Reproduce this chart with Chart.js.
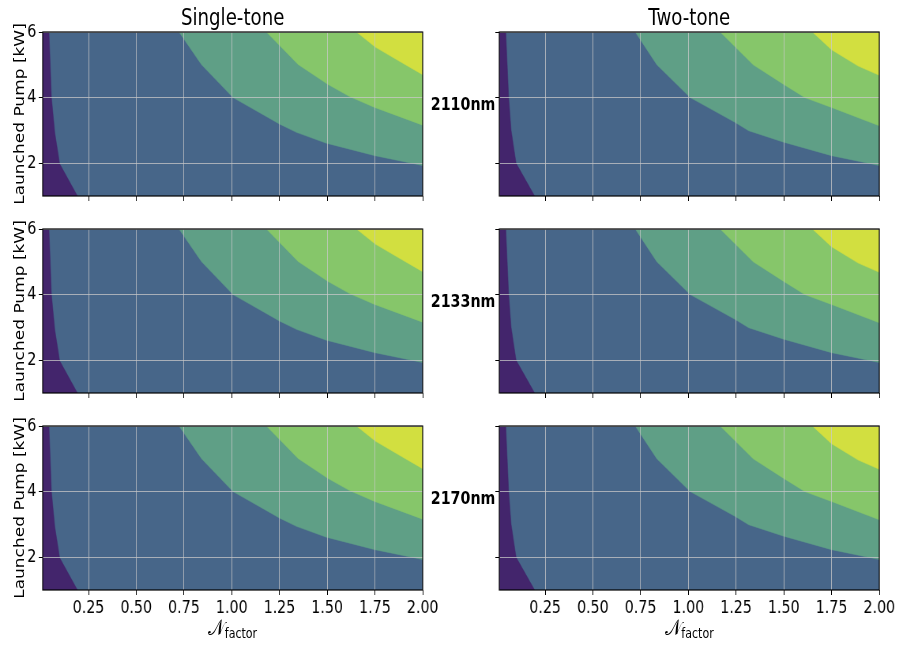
<!DOCTYPE html>
<html>
<head>
<meta charset="utf-8">
<script src="https://cdn.jsdelivr.net/npm/chart.js@4"></script>
<style>
  html, body { margin: 0; padding: 0; background: #fff; overflow: hidden; }
  #fig { position: absolute; left: 0; top: 0; width: 1138px; height: 647px;
         transform: scaleX(0.79); transform-origin: 0 0; font-family: 'DejaVu Sans', sans-serif; color: #000; }
  #fig canvas { position: absolute; }
  .lbl { position: absolute; white-space: nowrap; }
  .title { font-size: 23px; line-height: 23px; text-align: center; width: 300px; }
  .row { font-size: 18px; line-height: 18px; font-weight: bold; text-align: right; width: 120px; }
  .ylab { font-size: 17px; line-height: 20px; text-align: center; width: 260px; transform: rotate(-90deg); }
  .xlab { text-align: center; width: 200px; font-size: 22px; line-height: 26px; }
  .xlab sub { font-size: 14px; vertical-align: -3px; }
</style>
</head>
<body>
<div id="fig"></div>
<script>
// axis ranges and ticks
const xRange = [0.01, 2.0];
const yRange = [1.0, 6.0];
const xTicks = [0.25, 0.5, 0.75, 1.0, 1.25, 1.5, 1.75, 2.0];
const yTicks = [2, 4, 6];

const columns = ['Single-tone', 'Two-tone'];
const wavelengths = ['2110nm', '2133nm', '2170nm'];

// contour level edges, single-tone
const stPurpleX = [0.01, 0.043, 0.056, 0.073, 0.099, 0.192];
const stPurpleY = [6, 6, 4.0, 2.95, 1.98, 1.0];
const stTealX = [0.724, 0.841, 1.007, 1.252, 1.339, 1.496, 1.75, 2.0];
const stTealY = [6, 5.01, 4.0, 3.19, 2.94, 2.61, 2.23, 1.93];
const stGreenX = [1.182, 1.348, 1.505, 1.618, 1.749, 2.0];
const stGreenY = [6, 5.01, 4.40, 4.03, 3.70, 3.16];
const stYellowX = [1.654, 1.752, 1.89, 2.0];
const stYellowY = [6, 5.54, 5.07, 4.70];

// contour level edges, two-tone
const ttPurpleX = [0.01, 0.044, 0.059, 0.072, 0.098, 0.195];
const ttPurpleY = [6, 6, 4.0, 3.0, 2.0, 1.0];
const ttTealX = [0.722, 0.835, 1.01, 1.246, 1.316, 1.50, 1.75, 2.0];
const ttTealY = [6, 5.0, 4.0, 3.24, 2.99, 2.64, 2.23, 1.93];
const ttGreenX = [1.167, 1.34, 1.50, 1.61, 1.75, 2.0];
const ttGreenY = [6, 5.0, 4.40, 4.0, 3.70, 3.14];
const ttYellowX = [1.65, 1.75, 1.89, 2.0];
const ttYellowY = [6, 5.46, 4.96, 4.68];

const levelColors = ['#43256c', '#476689', '#5f9f86', '#86c66a', '#d2df40'];
const gridColor = 'rgba(200,200,200,0.75)';
const FONT = "'DejaVu Sans', sans-serif";

const edges = [
  { purple: [stPurpleX, stPurpleY], teal: [stTealX, stTealY], green: [stGreenX, stGreenY], yellow: [stYellowX, stYellowY] },
  { purple: [ttPurpleX, ttPurpleY], teal: [ttTealX, ttTealY], green: [ttGreenX, ttGreenY], yellow: [ttYellowX, ttYellowY] },
];

// panel placement (unscaled figure px)
const colLeft = [54, 632];
const plotW = 481;
const rowTop = [32, 229, 426];
const plotH = 164;
const padL = 60, padT = 15, padR = 40, padB = 35;

const fig = document.getElementById('fig');

function pts(xs, ys) {
  return xs.map((x, i) => ({ x, y: ys[i] }));
}

function area(xs, ys, color, fill) {
  return {
    data: pts(xs, ys), showLine: true, fill, tension: 0,
    backgroundColor: color, borderColor: color, borderWidth: 0.5, pointRadius: 0,
  };
}

const framePlugin = {
  id: 'frame',
  afterDraw(chart) {
    const { ctx, chartArea: a } = chart;
    ctx.save();
    ctx.strokeStyle = '#000';
    ctx.lineWidth = 1.2;
    ctx.strokeRect(a.left, a.top, a.right - a.left, a.bottom - a.top);
    ctx.restore();
  },
};

function makePanel(col, row) {
  const cv = document.createElement('canvas');
  const w = padL + plotW + padR, h = padT + plotH + padB;
  cv.width = w; cv.height = h;
  cv.style.left = (colLeft[col] - padL) + 'px';
  cv.style.top = (rowTop[row] - padT) + 'px';
  cv.style.width = w + 'px'; cv.style.height = h + 'px';
  fig.appendChild(cv);

  const e = edges[col];
  // chart.js paints dataset 0 last, so the lowest level goes at the end
  new Chart(cv, {
    type: 'scatter',
    data: {
      datasets: [
        area(e.purple[0], e.purple[1], levelColors[0], 'start'),
        area(e.yellow[0], e.yellow[1], levelColors[4], 'end'),
        area(e.green[0], e.green[1], levelColors[3], 'end'),
        area(e.teal[0], e.teal[1], levelColors[2], 'end'),
        area([xRange[0], xRange[1]], [yRange[1], yRange[1]], levelColors[1], 'start'),
      ],
    },
    options: {
      responsive: false,
      animation: false,
      layout: { padding: { left: 0, top: padT, right: padR, bottom: 0 } },
      plugins: { legend: { display: false }, tooltip: { enabled: false } },
      scales: {
        x: {
          type: 'linear', min: xRange[0], max: xRange[1],
          grid: { z: 1, color: gridColor, lineWidth: 1, tickLength: 5, tickColor: '#000', tickWidth: 1 },
          border: { display: false },
          ticks: {
            display: row === 2, color: '#000', padding: 3, maxRotation: 0,
            font: { family: FONT, size: 18 },
            callback: v => v.toFixed(2),
          },
          afterBuildTicks: ax => { ax.ticks = xTicks.map(v => ({ value: v })); },
          afterFit: ax => { ax.height = padB; },
        },
        y: {
          type: 'linear', min: yRange[0], max: yRange[1],
          grid: { z: 1, color: gridColor, lineWidth: 1, tickLength: 5, tickColor: '#000', tickWidth: 1 },
          border: { display: false },
          ticks: {
            display: col === 0, color: '#000', padding: 3,
            font: { family: FONT, size: 18 },
            callback: v => String(v),
          },
          afterBuildTicks: ax => { ax.ticks = yTicks.map(v => ({ value: v })); },
          afterFit: ax => { ax.width = padL; },
        },
      },
    },
    plugins: [framePlugin],
  });
}

function addLabel(cls, html, left, top) {
  const d = document.createElement('div');
  d.className = 'lbl ' + cls;
  d.innerHTML = html;
  d.style.left = left + 'px';
  d.style.top = top + 'px';
  fig.appendChild(d);
}

for (let c = 0; c < 2; c++) {
  for (let r = 0; r < 3; r++) makePanel(c, r);
  const cx = colLeft[c] + plotW / 2;
  addLabel('title', columns[c], cx - 150, 6);
  addLabel('xlab', '𝒩<sub>factor</sub>', cx - 100, 615);
}
for (let r = 0; r < 3; r++) {
  const cy = rowTop[r] + plotH / 2;
  addLabel('ylab', 'Launched Pump [kW]', 25 - 130, cy - 10);
  addLabel('row', wavelengths[r], 627 - 120, cy - 19);
}
</script>
</body>
</html>
